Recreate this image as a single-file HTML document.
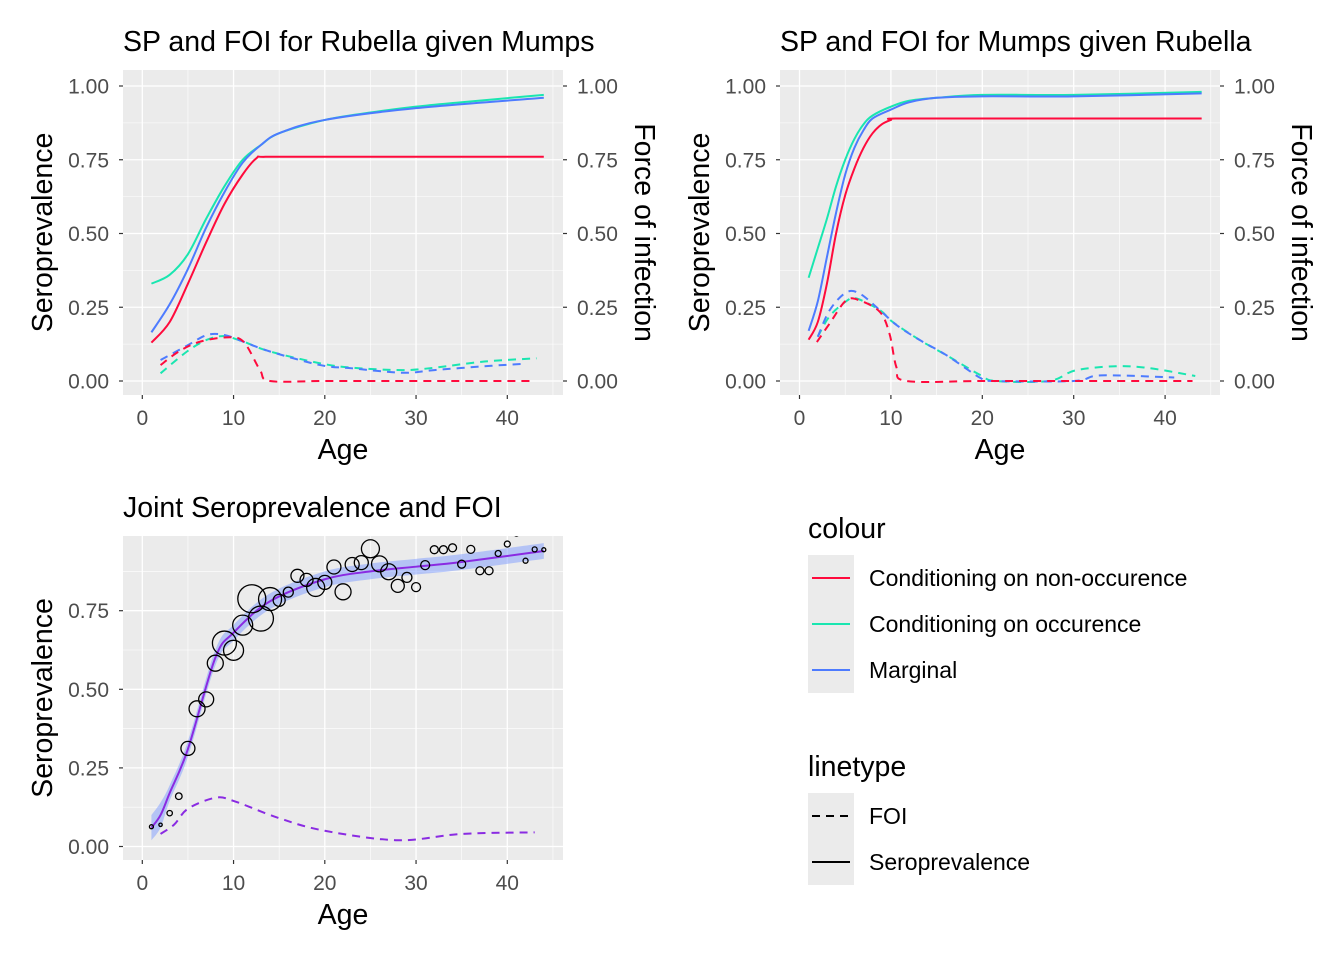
<!DOCTYPE html>
<html><head><meta charset="utf-8"><style>
body{margin:0;background:#fff;}
svg text{font-family:"Liberation Sans",Arial,sans-serif;}
</style></head><body>
<svg id="c" width="1344" height="960" viewBox="0 0 1344 960" xmlns="http://www.w3.org/2000/svg"></svg>
<script>
// ---------- data ----------
const p1Ages = {
  redSP:[1,3,5,7,9,11,12.5,13.5,20,30,44],
  greenSP:[1,3,5,7,9,11,13,15,20,25,30,35,44],
  blueSP:[1,3,5,7,9,11,13,15,20,30,44],
  redFOI:[2,4,6.3,9.3,11.1,12.9,14,20,30,42.5],
  blueFOI:[2,4.9,7.1,9,11.1,14,19.5,23,28.5,32,37.5,41.6],
  greenFOI:[2,4.9,7.1,9,11.1,14,19.5,23,28.5,32,37.5,43.2]
};
const p1Vals = {
  redSP:[0.13,0.2,0.33,0.47,0.6,0.7,0.755,0.76,0.76,0.76,0.76],
  greenSP:[0.33,0.36,0.43,0.55,0.66,0.75,0.8,0.84,0.885,0.91,0.93,0.945,0.97],
  blueSP:[0.165,0.26,0.38,0.52,0.64,0.74,0.8,0.84,0.885,0.925,0.96],
  redFOI:[0.054,0.1,0.133,0.148,0.133,0.037,0,0,0,0],
  blueFOI:[0.071,0.12,0.156,0.156,0.133,0.1,0.054,0.043,0.028,0.037,0.05,0.058],
  greenFOI:[0.026,0.1,0.14,0.152,0.133,0.1,0.06,0.045,0.037,0.045,0.066,0.077]
};
const p2Ages = {
  redSP:[1,2,3,4,5,6,7,8,9,10,10.5,20,44],
  greenSP:[1,2,3,4,5,6,7,8,10,12,15,20,30,44],
  blueSP:[1,2,3,4,5,6,7,8,10,12,15,20,30,44],
  redFOI:[1.9,3.3,5.1,6.6,8.8,9.85,10.6,11.7,20,30,43],
  blueFOI:[2,3.3,5.1,6.6,8.8,10.6,13.2,16.1,19.8,21.2,30,33,41],
  greenFOI:[2,3.3,5.1,6.2,8.8,10.2,13.2,16.1,19.8,21.5,27.3,30.2,34.6,38.2,43.3]
};
const p2Vals = {
  redSP:[0.14,0.2,0.33,0.5,0.63,0.72,0.79,0.84,0.87,0.885,0.89,0.89,0.89],
  greenSP:[0.35,0.45,0.55,0.66,0.75,0.82,0.87,0.9,0.93,0.95,0.96,0.97,0.97,0.98],
  blueSP:[0.17,0.27,0.42,0.57,0.7,0.79,0.85,0.89,0.92,0.945,0.96,0.965,0.965,0.975],
  redFOI:[0.132,0.195,0.273,0.273,0.234,0.16,0.047,0,0,0,0],
  blueFOI:[0.15,0.24,0.3,0.296,0.24,0.19,0.138,0.087,0.01,0,0,0.019,0.012],
  greenFOI:[0.15,0.22,0.27,0.28,0.24,0.2,0.138,0.087,0.02,0,0,0.036,0.05,0.044,0.017]
};
const jointAges = [];for(let a=1;a<=44;a++)jointAges.push(a);
const jointObs = [0.063,0.069,0.106,0.16,0.312,0.438,0.468,0.583,0.647,0.624,0.704,0.788,0.725,0.787,0.783,0.809,0.861,0.848,0.824,0.84,0.889,0.81,0.897,0.903,0.947,0.899,0.874,0.829,0.856,0.825,0.895,0.944,0.944,0.95,0.898,0.945,0.877,0.877,0.932,0.962,0.997,0.909,0.945,0.944];
const jointSize = [2,1.7,2.7,3.3,7,8,7.5,8,12,10,10,14,12.5,11.5,6,5,6.5,6.5,9,7,7,8,7,7,9,8,8,6.5,5,4.5,4.5,4,4,4,4,4,4,4,3,3,3,2.5,2.5,2];
const fitAges = [1,2,3,5,8,10,14,20,25,30,35,44];
const fitSP = [0.06,0.1,0.17,0.31,0.6,0.68,0.78,0.85,0.875,0.89,0.905,0.94];
const fitFOIAges = [2,3.5,5,8,10,15,20,28,35,43];
const fitFOI = [0.04,0.07,0.12,0.155,0.145,0.09,0.05,0.02,0.04,0.045];
const xTicks = [0,10,20,30,40];
const yTicks = [0,0.25,0.5,0.75,1];
const yTickLabels = ["0.00","0.25","0.50","0.75","1.00"];

const COL = {red:"#ff0a3c",green:"#19e6b0",blue:"#4d7bff",purple:"#8a2be2"};
const svg = document.getElementById('c');
const NS="http://www.w3.org/2000/svg";
function mk(tag,attrs,parent){const e=document.createElementNS(NS,tag);for(const k in attrs)e.setAttribute(k,attrs[k]);(parent||svg).appendChild(e);return e;}
function txt(s,attrs,parent){const e=mk('text',attrs,parent);e.textContent=s;return e;}
function path(xs,ys,X,Y){
  const P=xs.map((a,i)=>[X(a),Y(ys[i])]);
  let d=`M${P[0][0]},${P[0][1]}`;
  for(let i=0;i<P.length-1;i++){
    const p0=P[i-1]||P[i],p1=P[i],p2=P[i+1],p3=P[i+2]||P[i+1];
    const c1=[p1[0]+(p2[0]-p0[0])/6,p1[1]+(p2[1]-p0[1])/6];
    const c2=[p2[0]-(p3[0]-p1[0])/6,p2[1]-(p3[1]-p1[1])/6];
    d+=` C${c1[0]},${c1[1]} ${c2[0]},${c2[1]} ${p2[0]},${p2[1]}`;
  }
  return d;
}
const TICK=21, BIG=28.5;
function panel(o){
  const g=mk('g',{});
  
  
  const X=a=>o.x0+a*o.xs, Y=v=>o.y0-v*o.ys;
  const bg=mk('rect',{x:o.l,y:o.t,width:o.r-o.l,height:o.b-o.t,fill:'#ebebeb'},g);
  
  [5,15,25,35,45].forEach(a=>{if(X(a)<o.r)mk('line',{x1:X(a),x2:X(a),y1:o.t,y2:o.b,stroke:'#fff','stroke-width':0.6},g);});
  [0.125,0.375,0.625,0.875].forEach(v=>mk('line',{x1:o.l,x2:o.r,y1:Y(v),y2:Y(v),stroke:'#fff','stroke-width':0.6},g));
  xTicks.forEach(a=>{mk('line',{x1:X(a),x2:X(a),y1:o.t,y2:o.b,stroke:'#fff','stroke-width':1.3},g);
    mk('line',{x1:X(a),x2:X(a),y1:o.b,y2:o.b+4,stroke:'#333','stroke-width':1.2},g);
    const t=txt(a,{x:X(a),y:o.b+30,'font-size':TICK,fill:'#4d4d4d','text-anchor':'middle'},g);
    });
  yTicks.forEach((v,i)=>{ if(Y(v)<o.t) return;
    mk('line',{x1:o.l,x2:o.r,y1:Y(v),y2:Y(v),stroke:'#fff','stroke-width':1.3},g);
    mk('line',{x1:o.l-4,x2:o.l,y1:Y(v),y2:Y(v),stroke:'#333','stroke-width':1.2},g);
    const t=txt(yTickLabels[i],{x:o.l-14,y:Y(v)+7.5,'font-size':TICK,fill:'#4d4d4d','text-anchor':'end'},g);
    
    if(o.sec){mk('line',{x1:o.r,x2:o.r+4,y1:Y(v),y2:Y(v),stroke:'#333','stroke-width':1.2},g);
      const t2=txt(yTickLabels[i],{x:o.r+14,y:Y(v)+7.5,'font-size':TICK,fill:'#4d4d4d'},g);
      }
  });
  const ti=txt(o.title,{x:o.l,y:o.t-19,'font-size':BIG,fill:'#000'},g);
  
  const xl=txt('Age',{x:(o.l+o.r)/2,y:o.b+64,'font-size':BIG,fill:'#000','text-anchor':'middle'},g);
  
  const cy=(o.t+o.b)/2;
  const yl=txt('Seroprevalence',{x:0,y:0,'font-size':BIG,fill:'#000','text-anchor':'middle',transform:`translate(${o.l-71},${cy}) rotate(-90)`},g);
  
  if(o.sec){const sl=txt('Force of infection',{x:0,y:0,'font-size':BIG,fill:'#000','text-anchor':'middle',transform:`translate(${o.r+72},${cy}) rotate(90)`},g);
    }
  return {g,X,Y};
}
function series(P,ages,vals,col,dash,name){
  const e=mk('path',{d:path(ages,vals,P.X,P.Y),fill:'none',stroke:col,'stroke-width':2,'stroke-dasharray':dash?'8,6':'none'},P.g);
  
}
function drawP(P,A,V){
  [['greenFOI','green'],['blueFOI','blue'],['redFOI','red']].forEach(([k,c])=>series(P,A[k],V[k],COL[c],true,c+'-foi-line'));
  [['greenSP','green'],['blueSP','blue'],['redSP','red']].forEach(([k,c])=>series(P,A[k],V[k],COL[c],false,c+'-seroprevalence-line'));
}
const P1=panel({name:'panel-rubella-given-mumps',l:123,r:563,t:70,b:395,x0:142.3,xs:9.125,y0:381,ys:295,sec:true,title:'SP and FOI for Rubella given Mumps'});
drawP(P1,p1Ages,p1Vals);
const P2=panel({name:'panel-mumps-given-rubella',l:780,r:1220,t:70,b:395,x0:799.5,xs:9.14,y0:381,ys:295,sec:true,title:'SP and FOI for Mumps given Rubella'});
drawP(P2,p2Ages,p2Vals);
const P3=panel({name:'panel-joint',l:123,r:563,t:536,b:860,x0:142.3,xs:9.125,y0:846.5,ys:314.4,sec:false,title:'Joint Seroprevalence and FOI'});
(function(){
  const up=fitSP.map((v,i)=>v+0.025+(i<2?0.015:0)), lo=fitSP.map((v,i)=>v-0.025-(i<2?0.015:0));
  const d1=path(fitAges,up,P3.X,P3.Y);
  const revA=fitAges.slice().reverse(), revL=lo.slice().reverse();
  const d2=path(revA,revL,P3.X,P3.Y).replace(/^M/,'L');
  const r=mk('path',{d:d1+' '+d2+' Z',fill:'#7d9bff','fill-opacity':0.5,stroke:'none'},P3.g);
  
})();
series(P3,fitAges,fitSP,COL.purple,false,'fitted-seroprevalence-line');
series(P3,fitFOIAges,fitFOI,COL.purple,true,'fitted-foi-line');
const clip=mk('clipPath',{id:'cp3'});mk('rect',{x:123,y:536,width:440,height:324},clip);
const pts=mk('g',{'clip-path':'url(#cp3)'},P3.g);
jointAges.forEach((a,i)=>{
  const c=mk('circle',{cx:P3.X(a),cy:P3.Y(jointObs[i]),r:jointSize[i],fill:'none',stroke:'#000','stroke-width':1.3},pts);
  
  
});
const lg=mk('g',{});
txt('colour',{x:808,y:538,'font-size':BIG},lg);
mk('rect',{x:808,y:555,width:46,height:138,fill:'#ebebeb'},lg);
[['Conditioning on non-occurence',COL.red,578],['Conditioning on occurence',COL.green,624],['Marginal',COL.blue,670]].forEach(([t,c,y])=>{
  const e=mk('g',{},lg);
  mk('line',{x1:812,x2:850,y1:y,y2:y,stroke:c,'stroke-width':2},e);
  txt(t,{x:869,y:y+8,'font-size':23},e);
});
txt('linetype',{x:808,y:776,'font-size':BIG},lg);
mk('rect',{x:808,y:793,width:46,height:92,fill:'#ebebeb'},lg);
[['FOI','8,6',816],['Seroprevalence','none',862]].forEach(([t,d,y])=>{
  const e=mk('g',{},lg);
  mk('line',{x1:812,x2:850,y1:y,y2:y,stroke:'#000','stroke-width':2,'stroke-dasharray':d},e);
  txt(t,{x:869,y:y+8,'font-size':23},e);
});
</script>
</body></html>
